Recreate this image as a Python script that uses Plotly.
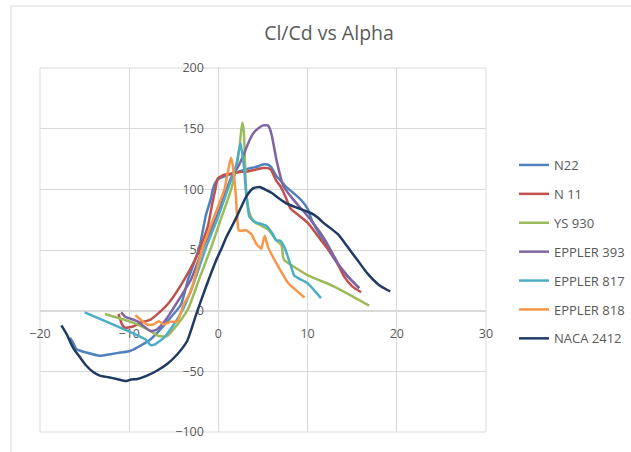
import plotly.graph_objects as go

# ---- data ----
series_names = ["N22", "N 11", "YS 930", "EPPLER 393", "EPPLER 817", "EPPLER 818", "NACA 2412"]
series_colors = ["#4F81BD", "#C0504D", "#9BBB59", "#8064A2", "#4BACC6", "#F79646", "#1F3B64"]

n22_x = [-16.65, -16.4, -15.9, -14.8, -13.3, -12.1, -11.0, -9.9, -8.8, -7.6, -6.5, -5.4, -4.2, -3.4, -2.14,
         -1.39, -0.82, -0.63, -0.3, 0.1, 0.8, 1.6, 3.1, 4.5, 5.0, 5.5, 5.9, 6.5, 7.0, 7.6, 8.4, 9.3, 10.0,
         10.5, 11.1, 12.6, 14.1, 15.8]
n22_y = [-22.3, -25, -31.8, -34.5, -37.2, -35.9, -34.5, -33.2, -29.1, -23.6, -15.5, -6, 4.9, 25.7, 52,
         79, 93, 100, 106, 109, 111, 113, 116.6, 119, 120.5, 120.5, 118.5, 111, 107, 102, 97, 91, 84,
         74, 66, 47, 31, 18.5]

n11_x = [-11.2, -10.8, -10.45, -9.5, -8.8, -7.6, -6.9, -5.5, -3.8, -2.3, -1.2, -0.7, -0.34, -0.07, 0.67,
         1.24, 2.5, 3.1, 4.0, 5.0, 5.56, 5.9, 6.5, 7.0, 7.6, 8.1, 8.76, 10.0, 11.5, 13.0, 14.1, 15.0, 16.0]
n11_y = [-2.7, -11.4, -14.1, -12.8, -10, -7.3, -3.3, 7, 26, 47, 69, 88, 100, 109, 112,
         112.6, 114.5, 114.5, 116, 117.5, 117.5, 116, 107, 102, 92.5, 84, 80, 72.5, 58, 44, 28, 20, 15.2]

ys930_x = [-12.7, -9.5, -7.6, -6.7, -5.75, -4.6, -3.4, -2.1, -0.82, 0.3, 1.43, 2.0, 2.36, 2.67,
           2.85, 3.1, 3.5, 4.0, 4.6, 5.56, 6.5, 7.07, 7.26, 7.4, 10.0, 13.0, 16.9]
ys930_y = [-2.7, -10, -16.8, -20.9, -20.9, -11.4, 1.4, 27, 52, 76, 100, 118, 134, 155,
           148, 100, 80, 73, 71, 67, 58, 54, 44, 41.6, 29.3, 19.8, 4.1]

e393_x = [-10.9, -10.45, -9.1, -7.6, -6.9, -5.75, -4.8, -3.07, -1.7, -0.07, 1.42, 2.0, 2.37, 2.74, 3.5, 4.0,
          4.6, 5.0, 5.56, 5.94, 6.5, 7.26, 8.4, 10.0, 11.9, 13.4, 14.9, 15.8]
e393_y = [-1.4, -5, -8.7, -16.8, -15.5, -6, 4.9, 25.7, 52, 79.7, 109.5, 116, 121, 127, 140.6, 147,
          151, 152.7, 152.7, 146, 124.6, 103, 91.5, 78, 59, 39, 25.3, 18.5]

e817_x = [-15.0, -8.2, -7.6, -7.1, -6.1, -5.0, -3.9, -2.7, -1.39, 0.0, 1.05, 2.0, 2.48, 2.86, 3.1,
          3.5, 4.25, 4.8, 5.4, 6.1, 6.45, 6.9, 7.4, 8.1, 8.5, 8.9, 10.0, 11.5]
e817_y = [-1.4, -23.6, -28.3, -27.7, -22.3, -11.4, 2.2, 24, 52, 78, 100, 120, 138, 119, 98,
          77, 72.5, 71.5, 69.8, 63, 58, 57.8, 52.4, 37.5, 29, 27, 22.6, 10.3]

e818_x = [-9.3, -8.0, -7.3, -6.7, -6.1, -5.4, -4.6, -3.9, -3.1, -2.7, -1.76, -0.5, 0.68, 1.0, 1.4,
          1.6, 1.9, 2.17, 2.3, 3.1, 3.7, 4.25, 4.6, 4.8, 5.2, 5.56, 6.1, 6.7, 7.8, 9.66]
e818_y = [-3.8, -11.4, -11.4, -8.7, -11.4, -9.2, -8.7, 4.9, 15.8, 25.7, 52, 77, 100, 112, 126,
          120, 100, 71, 66, 66.3, 63, 55, 52.4, 51, 61.8, 52.4, 44.4, 36.5, 23, 10.8]

naca_x = [-17.6, -17.0, -16.3, -15.5, -14.8, -14.0, -13.3, -12.3, -11.4, -10.3, -9.8, -9.1, -8.0, -6.9,
          -5.75, -4.6, -3.5, -2.5, -1.39, -0.26, 0.4, 0.87, 2.0, 3.12, 3.88, 4.63, 5.38, 6.0, 6.5, 7.6,
          8.76, 9.9, 10.5, 11.1, 11.7, 12.2, 13.4, 14.5, 15.6, 16.7, 18.0, 19.27]
naca_y = [-12.2, -19.6, -30.4, -38.6, -45.4, -50.8, -53.5, -54.9, -56.3, -58, -56.8, -56.3, -53.5, -49.5,
          -44, -35.9, -25, -3.3, 19.7, 41.4, 52, 60.3, 76.5, 94, 100.8, 102, 99.4, 97, 94, 88.5,
          85, 81.8, 80, 77, 73, 70, 63, 52.4, 41.6, 30.7, 21.2, 15.8]

x_ticks = [-20, -10, 0, 10, 20, 30]
y_ticks = [-100, -50, 0, 50, 100, 150, 200]

all_x = [n22_x, n11_x, ys930_x, e393_x, e817_x, e818_x, naca_x]
all_y = [n22_y, n11_y, ys930_y, e393_y, e817_y, e818_y, naca_y]

# ---- figure ----
W, H = 631, 452
L, R, T, B = 40, 486, 68, 438   # plot area pixels

fig = go.Figure()
for i, name in enumerate(series_names):
    fig.add_trace(go.Scatter(
        x=all_x[i], y=all_y[i], mode="lines", name=name,
        legendgroup=name,
        line=dict(color=series_colors[i], width=2.5, shape="spline", smoothing=0.5),
    ))

grid = "#D9D9D9"
tick_font = dict(family="Open Sans, sans-serif", size=12.5, color="#595959")

fig.update_layout(
    width=W, height=H,
    margin=dict(l=L, r=W - R, t=T, b=H - B, pad=0),
    paper_bgcolor="white", plot_bgcolor="white",
    title=dict(text="Cl/Cd vs Alpha", x=329 / W, xanchor="center", xref="container",
               y=1 - 33 / H, yanchor="middle", yref="container",
               font=dict(family="Open Sans, sans-serif", size=19.5, color="#595959")),
    showlegend=True,
    legend=dict(xref="container", yref="container", x=514 / W, y=1 - 150 / H,
                xanchor="left", yanchor="top", tracegroupgap=9,
                font=dict(family="Open Sans, sans-serif", size=13, color="#595959"),
                bgcolor="rgba(0,0,0,0)"),
    xaxis=dict(range=[-20, 30], tickvals=x_ticks, showgrid=True, gridcolor=grid, gridwidth=1,
               zeroline=False, showline=True, linecolor=grid, linewidth=1,
               anchor="free", position=1 / 3, domain=[0, 1], ticks="", tickfont=tick_font,
               layer="below traces", ticklabelstandoff=11, fixedrange=True),
    yaxis=dict(range=[-100, 200], tickvals=y_ticks, showgrid=True, gridcolor=grid, gridwidth=1,
               zeroline=False, showline=True, linecolor=grid, linewidth=1,
               anchor="free", position=0.4, domain=[0, 1], ticks="", tickfont=tick_font,
               layer="below traces", ticklabelstandoff=12, fixedrange=True),
)

# plot area frame and outer chart border
fig.add_shape(type="rect", xref="paper", yref="paper", x0=0, x1=1, y0=0, y1=1,
              line=dict(color=grid, width=1), layer="below")
bx0 = (11 - L) / (R - L)
by1 = (B - 5) / (B - T)
by0 = (B - 460) / (B - T)
bx1 = (640 - L) / (R - L)
fig.add_shape(type="line", xref="paper", yref="paper", x0=bx0, x1=bx0, y0=by0, y1=by1,
              line=dict(color="#D9D9D9", width=1))
fig.add_shape(type="line", xref="paper", yref="paper", x0=bx0, x1=bx1, y0=by1, y1=by1,
              line=dict(color="#D9D9D9", width=1))

fig.write_html("out.html")
